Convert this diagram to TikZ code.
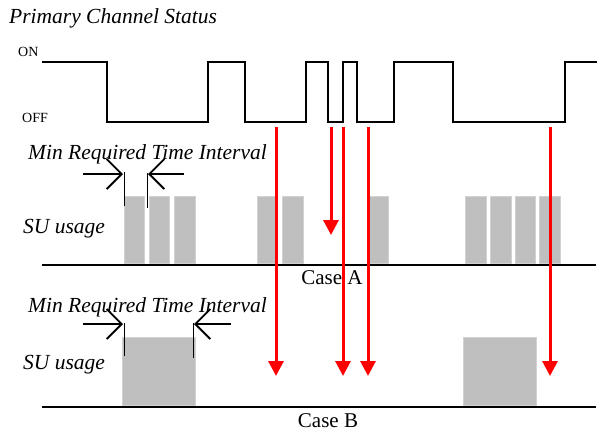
\documentclass[tikz,border=0pt]{standalone}
\usepackage{fontspec}
\setmainfont{Liberation Serif}
\usetikzlibrary{arrows.meta}

\begin{document}
\begin{tikzpicture}[x = 1pt, y = -1pt,
	lbl/.style = {anchor = base west, inner sep = 0pt, font = \fontsize{21.5}{24}\selectfont\itshape},
	lvl/.style = {anchor = base west, inner sep = 0pt, font = \fontsize{14}{16}\selectfont},
	case/.style = {anchor = base, inner sep = 0pt, font = \fontsize{21}{24}\selectfont},
	slot/.style = {fill = gray!50, draw = gray!35, line width = 0.8pt},
	gap/.style = {line width = 1.6pt, -{Straight Barb[length = 15pt, width = 30pt, line width = 1.8pt]}},
	alarm/.style = {red, line width = 3pt, -{Triangle[length = 15pt, width = 15pt]}}]
	\useasboundingbox (0,0) rectangle (599,432);

	\node[lbl] (title) at (9,23) {Primary Channel Status};
	\node[lvl] (on) at (18,56) {ON};
	\node[lvl] (off) at (22,122) {OFF};

	\draw[line width = 2pt]
	(42,62) -| (107,122) -| (208,62) -| (245,122) -| (306,62)
	-| (328,122) -| (343,62) -| (357,122) -| (394,62)
	-| (453,122) -| (565,62) -- (597,62);

	% case A
	\node[lbl] (minA) at (28,159) {Min Required Time Interval};
	\node[lbl] (suA) at (23,233) {SU usage};
	\fill[slot] (124,196) rectangle (144,263);
	\fill[slot] (149,196) rectangle (169,263);
	\fill[slot] (174,196) rectangle (195,263);
	\fill[slot] (257,196) rectangle (277,263);
	\fill[slot] (282,196) rectangle (303,263);
	\fill[slot] (368,196) rectangle (388,263);
	\fill[slot] (465,196) rectangle (486,263);
	\fill[slot] (490,196) rectangle (511,263);
	\fill[slot] (515,196) rectangle (535,263);
	\fill[slot] (539,196) rectangle (560,263);
	\draw[line width = 2pt] (42,265) -- (596,265);
	\node[case] (caseA) at (332,284) {Case A};
	\draw[line width = 1pt] (124,172) -- (124,206) (147,173) -- (147,208);
	\draw[gap] (83,174) -- (123,174);
	\draw[gap] (184,174) -- (148,174);

	% case B
	\node[lbl] (minB) at (28,312) {Min Required Time Interval};
	\node[lbl] (suB) at (23,369) {SU usage};
	\fill[slot] (122,337) rectangle (195,405);
	\fill[slot] (463,337) rectangle (536,405);
	\draw[line width = 2pt] (42,407) -- (596,407);
	\node[case] (caseB) at (328,427) {Case B};
	\draw[line width = 1pt] (124,323) -- (124,356) (193,323) -- (193,358);
	\draw[gap] (83,324) -- (123,324);
	\draw[gap] (231,324) -- (194,324);

	\draw[alarm] (276,127) -- (276,376);
	\draw[alarm] (331,127) -- (331,235);
	\draw[alarm] (343,127) -- (343,376);
	\draw[alarm] (368,127) -- (368,376);
	\draw[alarm] (550,127) -- (550,376);
\end{tikzpicture}
\end{document}
